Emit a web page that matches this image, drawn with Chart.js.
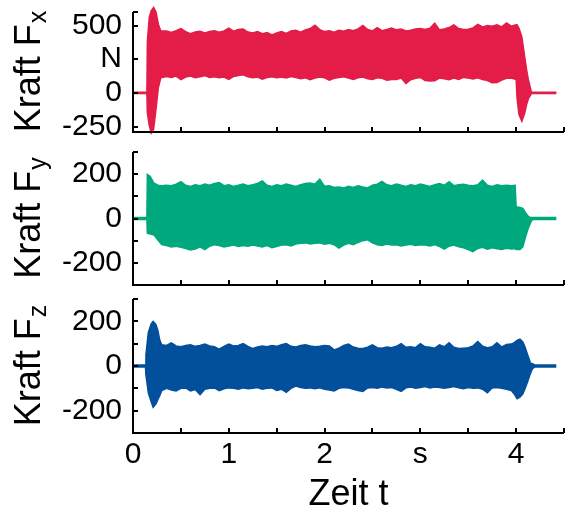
<!DOCTYPE html>
<html><head><meta charset="utf-8">
<script src="https://cdn.jsdelivr.net/npm/chart.js@4/dist/chart.umd.min.js"></script>
<style>
html,body{margin:0;padding:0;background:#fff;}
#wrap{position:relative;width:567px;height:512px;}
canvas{position:absolute;left:0;}
</style></head><body>
<div id="wrap">
<canvas id="c1" width="567" height="140" style="top:0px"></canvas>
<canvas id="c2" width="567" height="150" style="top:140px"></canvas>
<canvas id="c3" width="567" height="222" style="top:290px"></canvas>
</div>
<script>
// ---------- data ----------
const xTickValues = [0, 0.5, 1, 1.5, 2, 2.5, 3, 3.5, 4, 4.5];
const xTickLabels = ['0', '', '1', '', '2', '', 's', '', '4', ''];

const fxTickValues = [-250, 0, 250, 500];
const fxTickLabels = ['-250', '0', 'N', '500'];
const fyTickValues = [-200, -100, 0, 100, 200];
const fyTickLabels = ['-200', '', '0', '', '200'];
const fzTickValues = [-200, -100, 0, 100, 200];
const fzTickLabels = ['-200', '', '0', '', '200'];

const tFx = [0, 0.145, 0.15, 0.17, 0.19, 0.215, 0.24, 0.265, 0.29,
  0.35,0.40,0.45,0.50,0.55,0.60,0.65,0.70,0.75,0.80,
  0.85,0.90,0.95,1.00,1.05,1.10,1.15,1.20,1.25,1.30,
  1.35,1.40,1.45,1.50,1.55,1.60,1.65,1.70,1.75,1.80,
  1.85,1.90,1.95,2.00,2.05,2.10,2.15,2.20,2.25,2.30,
  2.35,2.40,2.45,2.50,2.55,2.60,2.65,2.70,2.75,2.80,
  2.85,2.90,2.95,3.00,3.05,3.10,3.15,3.20,3.25,3.30,
  3.35,3.40,3.45,3.50,3.55,3.60,3.65,3.70,3.75,3.80,
  3.85,3.90,3.95,
  4.00, 4.01, 4.03, 4.06, 4.09, 4.11, 4.13, 4.16, 4.42];
const fxUpper = [5, 5, 380, 560, 610, 635, 600, 510, 460,
  460,448,462,478,455,440,452,458,445,455,
  462,450,460,480,458,470,475,452,445,455,
  440,448,430,445,455,442,460,465,450,468,
  478,502,470,455,462,450,465,458,470,462,
  475,500,470,460,485,462,470,482,468,475,
  460,465,475,478,470,480,518,468,475,485,
  505,478,470,472,482,508,490,500,495,505,
  490,520,495,
  505, 505, 480, 415, 265, 170, 90, 5, 5];
const fxLower = [-5, -5, -150, -240, -298, -270, -120, 40, 112,
  122,115,125,98,118,125,112,120,128,115,
  120,112,118,100,122,130,135,120,112,118,
  102,115,120,112,118,110,122,115,105,112,
  98,110,118,112,95,108,115,120,110,100,
  112,118,105,100,112,108,95,100,100,110,
  70,98,108,115,92,88,90,110,105,98,
  110,100,115,110,104,112,100,92,75,78,
  95,108,110,
  100, -40, -160, -210, -150, -85, -40, -5, -5];

const tFy = [0, 0.145, 0.15, 0.18, 0.22, 0.26, 0.30,
  0.35,0.40,0.45,0.50,0.55,0.60,0.65,0.70,0.75,0.80,
  0.85,0.90,0.95,1.00,1.05,1.10,1.15,1.20,1.25,1.30,
  1.35,1.40,1.45,1.50,1.55,1.60,1.65,1.70,1.75,1.80,
  1.85,1.90,1.95,2.00,2.05,2.10,2.15,2.20,2.25,2.30,
  2.35,2.40,2.45,2.50,2.55,2.60,2.65,2.70,2.75,2.80,
  2.85,2.90,2.95,3.00,3.05,3.10,3.15,3.20,3.25,3.30,
  3.35,3.40,3.45,3.50,3.55,3.60,3.65,3.70,3.75,3.80,
  3.85,3.90,3.95,
  3.99, 4.00, 4.04, 4.07, 4.10, 4.13, 4.16, 4.18, 4.42];
const fyUpper = [4, 4, 199, 189, 159, 150, 148,
  150,148,155,166,150,145,152,148,155,150,
  158,162,148,152,145,150,155,148,152,158,
  170,150,145,152,148,155,150,145,152,158,
  160,155,177,145,148,140,142,138,145,140,
  148,142,138,150,155,167,152,148,155,150,
  145,152,148,155,150,145,152,158,150,166,
  148,152,155,150,148,152,173,150,145,152,
  148,150,148,
  150, 53, 50, 46, 25, 8, 4, 4, 4];
const fyLower = [-4, -4, -66, -70, -75, -97, -118,
  -122,-128,-125,-130,-135,-142,-138,-128,-140,-125,
  -118,-122,-128,-124,-120,-126,-122,-125,-120,-124,
  -128,-122,-132,-126,-120,-118,-124,-115,-112,-110,
  -115,-112,-110,-116,-112,-118,-134,-120,-112,-118,
  -108,-100,-96,-110,-118,-122,-115,-120,-118,-124,
  -120,-116,-122,-118,-120,-124,-118,-126,-138,-125,
  -120,-128,-132,-140,-150,-135,-130,-138,-132,-136,
  -140,-134,-138,
  -135, -140, -140, -128, -80, -40, -10, -4, -4];

const tFz = [0, 0.13, 0.135, 0.16, 0.19, 0.21, 0.24, 0.26, 0.28, 0.30,
  0.35,0.40,0.45,0.50,0.55,0.60,0.65,0.70,0.75,0.80,
  0.85,0.90,0.95,1.00,1.05,1.10,1.15,1.20,1.25,1.30,
  1.35,1.40,1.45,1.50,1.55,1.60,1.65,1.70,1.75,1.80,
  1.85,1.90,1.95,2.00,2.05,2.10,2.15,2.20,2.25,2.30,
  2.35,2.40,2.45,2.50,2.55,2.60,2.65,2.70,2.75,2.80,
  2.85,2.90,2.95,3.00,3.05,3.10,3.15,3.20,3.25,3.30,
  3.35,3.40,3.45,3.50,3.55,3.60,3.65,3.70,3.75,3.80,
  3.85,3.90,3.95,
  3.98, 4.01, 4.04, 4.07, 4.09, 4.12, 4.15, 4.17, 4.20, 4.42];
const fzUpper = [4, 4, 50, 150, 189, 200, 185, 158, 115, 95,
  92,104,90,86,92,95,88,92,98,90,
  86,75,88,98,90,92,100,88,78,85,
  90,86,92,88,95,100,88,85,92,95,
  90,86,88,92,90,72,80,92,98,85,
  80,78,84,95,82,80,85,82,88,100,
  84,86,82,100,86,84,80,95,86,104,
  84,78,80,82,90,110,88,82,86,104,
  85,96,98,
  105, 115, 120, 108, 88, 50, 13, 10, 4, 4];
const fzLower = [-4, -4, -40, -120, -160, -185, -170, -150, -132, -110,
  -100,-108,-112,-100,-98,-112,-105,-128,-104,-100,
  -98,-110,-102,-98,-100,-104,-98,-102,-100,-96,
  -104,-100,-98,-110,-104,-118,-100,-90,-96,-100,
  -98,-102,-98,-104,-108,-112,-100,-96,-98,-104,
  -110,-114,-98,-96,-100,-94,-98,-96,-104,-114,
  -98,-94,-100,-96,-92,-98,-94,-96,-100,-96,
  -92,-98,-102,-96,-100,-98,-104,-120,-98,-96,
  -100,-104,-110,
  -125, -147, -140, -125, -105, -70, -33, -12, -4, -4];

// ---------- drawing ----------
const FONT = '"Liberation Sans", Arial, Helvetica, sans-serif';
Chart.defaults.font.family = FONT;
Chart.defaults.color = '#000';

const axisDeco = {
  id: 'axisDeco',
  afterDraw(chart, args, o) {
    const ctx = chart.ctx, a = chart.chartArea;
    const xs = chart.scales.x, ys = chart.scales.y;
    const yTop = ys.getPixelForValue(o.axisTop);
    ctx.save();
    ctx.strokeStyle = '#000';
    ctx.lineWidth = 2;
    ctx.beginPath();
    ctx.moveTo(a.left, yTop);
    ctx.lineTo(a.left, a.bottom);
    ctx.lineTo(a.right, a.bottom);
    ctx.stroke();
    ctx.beginPath();
    ys.ticks.map(t => t.value).concat([o.axisTop]).forEach(v => {
      const y = Math.round(ys.getPixelForValue(v));
      ctx.moveTo(a.left, y); ctx.lineTo(a.left + 5, y);
    });
    xs.ticks.forEach(t => {
      const x = Math.round(xs.getPixelForValue(t.value));
      ctx.moveTo(x, a.bottom); ctx.lineTo(x, a.bottom - 5);
    });
    ctx.stroke();
    // y title with subscript
    ctx.fillStyle = '#000';
    ctx.textBaseline = 'alphabetic';
    ctx.textAlign = 'left';
    const cy = (yTop + a.bottom) / 2;
    ctx.translate(40, cy);
    ctx.rotate(-Math.PI / 2);
    ctx.font = '36px ' + FONT;
    const w1 = ctx.measureText(o.main).width;
    ctx.font = '25px ' + FONT;
    const w2 = ctx.measureText(o.sub).width;
    const sx = -(w1 + w2) / 2;
    ctx.font = '36px ' + FONT;
    ctx.fillText(o.main, sx, 0);
    ctx.font = '25px ' + FONT;
    ctx.fillText(o.sub, sx + w1 + 1, 6);
    ctx.setTransform(1, 0, 0, 1, 0, 0);
    if (o.xTitle) {
      ctx.font = '36px ' + FONT;
      ctx.textAlign = 'center';
      ctx.fillText(o.xTitle, (a.left + a.right) / 2, a.bottom + 72);
    }
    ctx.restore();
  }
};

function band(t, up, lo, color) {
  const common = { borderColor: color, backgroundColor: color, borderWidth: 1.5,
    pointRadius: 0, tension: 0, clip: false };
  return [
    Object.assign({ data: t.map((x, i) => ({ x, y: up[i] })), fill: '+1' }, common),
    Object.assign({ data: t.map((x, i) => ({ x, y: lo[i] })), fill: false }, common)
  ];
}

function makeChart(id, cfg) {
  new Chart(document.getElementById(id), {
    type: 'line',
    data: { datasets: band(cfg.t, cfg.up, cfg.lo, cfg.color) },
    plugins: [axisDeco],
    options: {
      responsive: false,
      animation: false,
      events: [],
      layout: { padding: { top: cfg.padTop, right: 3, bottom: 0, left: 0 } },
      plugins: {
        legend: { display: false },
        tooltip: { enabled: false },
        axisDeco: { main: 'Kraft F', sub: cfg.sub, axisTop: cfg.axisTop, xTitle: cfg.xTitle }
      },
      scales: {
        x: {
          type: 'linear', min: 0, max: 4.5,
          grid: { display: false, drawTicks: false },
          border: { display: false },
          afterBuildTicks: s => { s.ticks = xTickValues.map(v => ({ value: v })); },
          afterFit: s => { s.height = cfg.xHeight; s.paddingLeft = 0; s.paddingRight = 0; },
          ticks: {
            display: cfg.showX, autoSkip: false, maxRotation: 0, padding: 4,
            font: { size: 30 }, color: '#000',
            callback: (v, i) => xTickLabels[xTickValues.indexOf(v)] ?? ''
          }
        },
        y: {
          type: 'linear', min: cfg.min, max: cfg.max,
          grid: { display: false, drawTicks: false },
          border: { display: false },
          afterBuildTicks: s => { s.ticks = cfg.ticks.map(v => ({ value: v })); },
          afterFit: s => { s.width = 133; s.paddingTop = 0; s.paddingBottom = 0; },
          ticks: {
            autoSkip: false, padding: 11, font: { size: 30 }, color: '#000',
            callback: (v) => cfg.labels[cfg.ticks.indexOf(v)] ?? ''
          }
        }
      }
    }
  });
}

makeChart('c1', { t: tFx, up: fxUpper, lo: fxLower, color: '#E31C48', sub: 'x',
  min: -290, max: 645, axisTop: 600, padTop: 6, xHeight: 8, showX: false,
  ticks: fxTickValues, labels: fxTickLabels });
makeChart('c2', { t: tFy, up: fyUpper, lo: fyLower, color: '#00A87D', sub: 'y',
  min: -300, max: 300, axisTop: 300, padTop: 12, xHeight: 5, showX: false,
  ticks: fyTickValues, labels: fyTickLabels });
makeChart('c3', { t: tFz, up: fzUpper, lo: fzLower, color: '#02509C', sub: 'z',
  min: -300, max: 300, axisTop: 300, padTop: 9, xHeight: 79, showX: true,
  ticks: fzTickValues, labels: fzTickLabels, xTitle: 'Zeit t' });
</script>
</body></html>
